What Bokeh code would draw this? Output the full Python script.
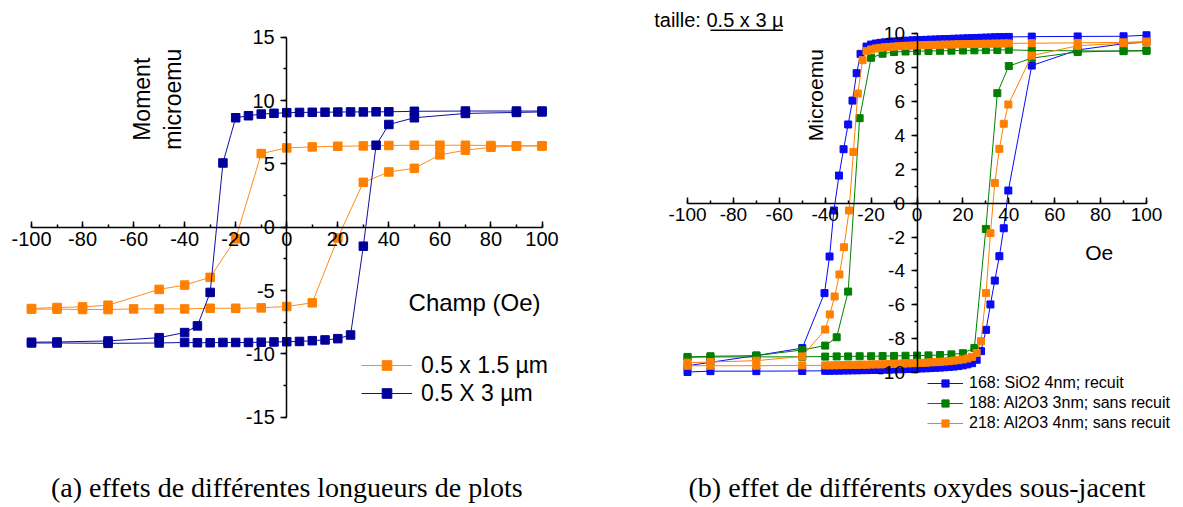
from bokeh.plotting import figure
from bokeh.models import (LinearAxis, SingleIntervalTicker, Label, Legend, LegendItem, Arrow, Range1d,
                          CustomJSTickFormatter)
from bokeh.layouts import row
from bokeh.embed import file_html
from bokeh.resources import INLINE

SANS = "Liberation Sans"
SERIF = "Liberation Serif"

# ---------------- panel (a) data ----------------
a_orange_down_x = [100, 90, 80, 70, 60, 50, 40, 30, 20, 10, 0, -10, -20, -30, -40, -50, -70, -80, -90, -100]
a_orange_down_y = [6.42, 6.42, 6.45, 6.47, 6.47, 6.47, 6.45, 6.42, 6.39, 6.34, 6.26, 5.81, -0.92, -3.96, -4.57, -4.91, -6.16, -6.29, -6.34, -6.42]
a_orange_up_x = [-100, -90, -80, -70, -60, -50, -40, -30, -20, -10, 0, 10, 20, 30, 40, 50, 60, 70, 80, 90, 100]
a_orange_up_y = [-6.47, -6.47, -6.5, -6.5, -6.45, -6.45, -6.45, -6.4, -6.4, -6.37, -6.26, -5.97, -0.85, 3.54, 4.36, 4.65, 5.71, 6.08, 6.31, 6.42, 6.42]

a_blue_down_x = [100, 90, 70, 50, 40, 35, 30, 25, 20, 15, 10, 5, 0, -5, -10, -15, -20, -25, -30, -35, -40, -50, -70, -90, -100]
a_blue_down_y = [9.17, 9.17, 9.17, 9.15, 9.11, 9.11, 9.1, 9.1, 9.09, 9.08, 9.07, 9.06, 9.04, 8.99, 8.93, 8.8, 8.64, 5.07, -5.15, -7.79, -8.32, -8.72, -8.98, -9.06, -9.08]
a_blue_up_x = [-100, -90, -70, -50, -40, -35, -30, -25, -20, -15, -10, -5, 0, 5, 10, 15, 20, 25, 30, 35, 40, 50, 70, 90, 100]
a_blue_up_y = [-9.14, -9.14, -9.17, -9.14, -9.1, -9.12, -9.12, -9.1, -9.1, -9.1, -9.08, -9.06, -9.04, -9.02, -8.96, -8.9, -8.8, -8.51, -1.5, 6.47, 8.11, 8.64, 8.98, 9.06, 9.1]

a_labels = ["0.5 x 1.5 µm", "0.5 X 3 µm"]

# ---------------- panel (b) data ----------------
b_blue_down_x = [100, 90, 70, 50, 40, 38, 36, 34, 32, 30, 28, 26, 24, 22, 20, 18, 16, 14, 12, 10, 8, 6, 4, 2, 0,
                 -2, -4, -6, -8, -10, -12, -14, -16, -18, -20, -22, -24.6, -26.3, -28.1, -30, -32, -34, -36.2,
                 -38.1, -40.3, -50, -70, -90, -100]
b_blue_down_y = [9.92, 9.86, 9.85, 9.84, 9.82, 9.81, 9.81, 9.80, 9.79, 9.78, 9.77, 9.76, 9.75, 9.74, 9.73, 9.72,
                 9.71, 9.70, 9.69, 9.68, 9.67, 9.66, 9.65, 9.64, 9.63, 9.62, 9.60, 9.59, 9.57, 9.55, 9.53, 9.50,
                 9.47, 9.43, 9.37, 9.25, 8.82, 7.68, 6.06, 4.65, 3.19, 1.63, -0.43, -3.15, -5.31, -8.56, -9.0,
                 -9.4, -9.6]
b_blue_up_x = [-100, -90, -70, -50, -40, -38, -36, -34, -32, -30, -28, -26, -24, -22, -20, -18, -16, -14, -12,
               -10, -8, -6, -4, -2, 0, 2, 4, 6, 8, 10, 12, 14, 16, 18, 20, 22, 24, 26, 27.9, 30.1, 32, 33.9,
               35.9, 37.8, 39.8, 50, 70, 90, 100]
b_blue_up_y = [-9.97, -9.92, -9.92, -9.91, -9.90, -9.90, -9.89, -9.89, -9.88, -9.88, -9.87, -9.87, -9.86, -9.86,
               -9.85, -9.85, -9.84, -9.83, -9.83, -9.82, -9.81, -9.80, -9.79, -9.78, -9.77, -9.76, -9.75, -9.74,
               -9.72, -9.71, -9.69, -9.67, -9.65, -9.62, -9.58, -9.52, -9.45, -9.25, -8.74, -7.48, -5.98, -4.57,
               -3.13, -1.48, 0.75, 8.13, 9.05, 9.42, 9.52]

b_green_down_x = [100, 90, 70, 50, 40, 35, 30, 25, 20, 15, 10, 5, 0, -5, -10, -15, -20, -25, -30, -35, -40, -50, -70, -90, -100]
b_green_down_y = [9.0, 8.98, 9.0, 9.02, 9.06, 9.05, 9.04, 9.03, 9.02, 9.01, 9.0, 8.99, 8.98, 8.96, 8.93, 8.83, 8.59,
                  5.02, -5.22, -7.92, -8.41, -8.67, -9.0, -9.04, -9.08]
b_green_up_x = [-100, -90, -70, -50, -40, -35, -30, -25, -20, -15, -10, -5, 0, 5, 10, 15, 20, 25, 30, 35, 40, 50, 70, 90, 100]
b_green_up_y = [-9.1, -9.08, -9.08, -9.07, -9.06, -9.05, -9.05, -9.04, -9.04, -9.03, -9.02, -9.01, -9.0, -8.99,
                -8.97, -8.93, -8.86, -8.55, -1.52, 6.5, 8.1, 8.57, 8.93, 9.0, 9.02]

b_orange_down_x = [100, 90, 70, 50, 40, 38, 36, 34, 32, 30, 28, 26, 24, 22, 20, 18, 16, 14, 12, 10, 8, 6, 4, 2, 0,
                   -2, -4, -6, -8, -10, -12, -14, -16, -18, -20, -22, -23.7, -25.8, -27.7, -29.6, -31.8, -33.8,
                   -35.9, -38, -40, -50, -70, -90, -100]
b_orange_down_y = [9.55, 9.5, 9.47, 9.45, 9.44, 9.44, 9.43, 9.43, 9.42, 9.42, 9.41, 9.41, 9.40, 9.40, 9.39, 9.39,
                   9.38, 9.37, 9.37, 9.36, 9.35, 9.35, 9.34, 9.33, 9.32, 9.31, 9.30, 9.29, 9.27, 9.25, 9.23, 9.21,
                   9.18, 9.14, 9.08, 8.98, 8.45, 6.48, 3.03, -0.43, -2.6, -4.21, -5.51, -6.57, -7.46, -9.05, -9.3,
                   -9.38, -9.42]
b_orange_up_x = [-100, -90, -70, -50, -40, -38, -36, -34, -32, -30, -28, -26, -24, -22, -20, -18, -16, -14, -12,
                 -10, -8, -6, -4, -2, 0, 2, 4, 6, 8, 10, 12, 14, 16, 18, 20, 22, 24, 26, 27.9, 30.1, 32, 33.9,
                 35.9, 37.8, 39.8, 50, 70, 90, 100]
b_orange_up_y = [-9.6, -9.6, -9.6, -9.58, -9.58, -9.58, -9.57, -9.57, -9.56, -9.56, -9.55, -9.55, -9.54, -9.54,
                 -9.53, -9.52, -9.52, -9.51, -9.50, -9.49, -9.48, -9.47, -9.46, -9.45, -9.44, -9.43, -9.42, -9.40,
                 -9.39, -9.37, -9.35, -9.33, -9.30, -9.27, -9.23, -9.17, -9.08, -8.85, -8.15, -5.31, -1.77, 1.2,
                 3.21, 4.69, 5.83, 8.72, 9.3, 9.45, 9.5]

b_labels = ["168: SiO2 4nm; recuit", "188: Al2O3 3nm; sans recuit", "218: Al2O3 4nm; sans recuit"]

captions = ["(a) effets de différentes longueurs de plots", "(b) effet de différents oxydes sous-jacent"]

H = 506


def base_fig(width, x0, sx, y0, sy):
    # frame covers the whole canvas; x0/y0 = pixel of the data origin, sx/sy = px per unit
    p = figure(width=width, height=H,
               x_range=Range1d(-x0 / sx, (width - x0) / sx),
               y_range=Range1d(-(H - y0) / sy, y0 / sy),
               output_backend="svg", toolbar_location=None, x_axis_location=None, y_axis_location=None,
               min_border=0)
    p.outline_line_color = None
    p.background_fill_color = "white"
    p.border_fill_color = "white"
    p.grid.visible = False
    return p


def add_axes(p, xb, yb, xint, yint, size):
    fmt = "return tick.toFixed(0);"
    xa = LinearAxis(fixed_location=0, bounds=xb,
                    ticker=SingleIntervalTicker(interval=xint, num_minor_ticks=2),
                    formatter=CustomJSTickFormatter(code=fmt))
    xa.major_tick_in = 6
    xa.major_tick_out = 0
    xa.minor_tick_in = 3
    xa.minor_tick_out = 0
    xa.major_label_standoff = 5
    ya = LinearAxis(fixed_location=0, bounds=yb,
                    ticker=SingleIntervalTicker(interval=yint, num_minor_ticks=2),
                    formatter=CustomJSTickFormatter(code=fmt))
    ya.major_tick_in = 0
    ya.major_tick_out = 6
    ya.minor_tick_in = 0
    ya.minor_tick_out = 3
    ya.major_label_standoff = 6
    for ax in (xa, ya):
        ax.axis_line_width = 1.5
        ax.major_tick_line_width = 1.5
        ax.minor_tick_line_width = 1.5
        ax.axis_line_color = "black"
        ax.major_tick_line_color = "black"
        ax.minor_tick_line_color = "black"
        ax.major_label_text_font = SANS
        ax.major_label_text_font_size = size
        ax.major_label_text_color = "black"
    p.add_layout(xa, "below")
    p.add_layout(ya, "left")


def series(p, xs_down, ys_down, xs_up, ys_up, color, line_color, size):
    xs = xs_down + xs_up
    ys = ys_down + ys_up
    lr = p.line(xs, ys, line_color=line_color, line_width=1)
    sr = p.scatter(xs, ys, marker="square", size=size, fill_color=color, line_color=color)
    return lr, sr


def text(p, x, y, s, size, font=SANS, angle=0, align="center"):
    p.add_layout(Label(x=x, y=y, text=s, angle=angle, angle_units="deg", text_align=align,
                       text_baseline="middle", text_font=font, text_font_size=size, text_color="black"))


# ---------------- panel (a) ----------------
p1 = base_fig(600, 286.25, 2.5525, 226.7, 12.667)
add_axes(p1, (-100, 100), (-15, 15), 20, 5, "20px")
r1 = series(p1, a_orange_down_x, a_orange_down_y, a_orange_up_x, a_orange_up_y, "#FF8000", "#FF8C1A", 8.5)
r2 = series(p1, a_blue_down_x, a_blue_down_y, a_blue_up_x, a_blue_up_y, "#000099", "#1010A0", 8.5)

leg1 = Legend(items=[LegendItem(label=a_labels[0], renderers=list(r1)),
                     LegendItem(label=a_labels[1], renderers=list(r2))],
              location=(361, 99), glyph_width=51, glyph_height=24, label_height=28, spacing=0,
              padding=0, margin=0, label_standoff=9, border_line_color=None, background_fill_alpha=0,
              label_text_font=SANS, label_text_font_size="23px", label_text_color="black")
p1.add_layout(leg1)

text(p1, -50.6, 10.1, "Moment\nmicroemu", "23px", angle=90)
text(p1, 74.9, -5.94, "Champ  (Oe)", "24px")
text(p1, 0, -20.55, captions[0], "28px", font=SERIF)

# ---------------- panel (b) ----------------
p2 = base_fig(582, 316.5, 2.295, 202.7, 16.93)
add_axes(p2, (-100, 100), (-10, 10), 20, 2, "19px")
rb = series(p2, b_blue_down_x, b_blue_down_y, b_blue_up_x, b_blue_up_y, "#0A0AF5", "#0A0AF5", 7)
rg = series(p2, b_green_down_x, b_green_down_y, b_green_up_x, b_green_up_y, "#008000", "#008000", 7)
ro = series(p2, b_orange_down_x, b_orange_down_y, b_orange_up_x, b_orange_up_y, "#FF8000", "#FF8000", 7)

leg2 = Legend(items=[LegendItem(label=b_labels[0], renderers=list(rb)),
                     LegendItem(label=b_labels[1], renderers=list(rg)),
                     LegendItem(label=b_labels[2], renderers=list(ro))],
              location=(327, 73), glyph_width=36, glyph_height=18, label_height=20, spacing=0,
              padding=0, margin=0, label_standoff=6, border_line_color=None, background_fill_alpha=0,
              label_text_font=SANS, label_text_font_size="16px", label_text_color="black")
p2.add_layout(leg2)

text(p2, -44.3, 6.38, "Microemu", "21px", angle=90)
text(p2, 79.4, -2.9, "Oe", "21px")
text(p2, -114.5, 10.8, "taille: 0.5 x 3 µ", "20px", align="left")
p2.add_layout(Arrow(x_start=-90.0, y_start=10.22, x_end=-58.5, y_end=10.22, start=None, end=None,
                    line_color="black", line_width=1.5))
text(p2, 0, -16.77, captions[1], "28px", font=SERIF)

layout = row(p1, p2)
open("out.html", "w").write(file_html(layout, INLINE))
